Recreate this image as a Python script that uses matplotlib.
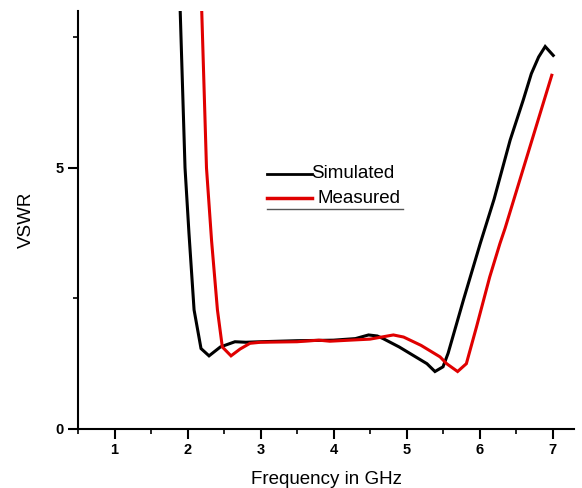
import matplotlib
matplotlib.use("Agg")
import matplotlib.pyplot as plt
from matplotlib.ticker import MultipleLocator
from matplotlib.lines import Line2D

plt.rcParams['font.family'] = ['Liberation Sans', 'DejaVu Sans']

# Simulated VSWR
sim_freq = [1.90, 1.966, 2.02, 2.09, 2.185, 2.295, 2.45, 2.65, 2.80, 3.00, 3.50,
            4.00, 4.30, 4.48, 4.60, 4.68, 4.90, 5.09, 5.28, 5.39, 5.50, 5.57,
            5.78, 6.01, 6.20, 6.42, 6.60, 6.71, 6.81, 6.90, 7.01]
sim_vswr = [8.0, 5.0, 3.75, 2.28, 1.54, 1.40, 1.57, 1.67, 1.66, 1.67, 1.69,
            1.70, 1.73, 1.80, 1.78, 1.73, 1.57, 1.41, 1.25, 1.10, 1.19, 1.45,
            2.47, 3.55, 4.40, 5.53, 6.30, 6.80, 7.12, 7.32, 7.15]

# Measured VSWR
meas_freq = [2.195, 2.26, 2.33, 2.41, 2.477, 2.596, 2.72, 2.856, 3.00, 3.50,
             3.80, 3.95, 4.22, 4.50, 4.70, 4.82, 4.96, 5.20, 5.46, 5.55, 5.70,
             5.82, 5.96, 6.14, 6.28, 6.35, 6.99]
meas_vswr = [8.0, 5.0, 3.6, 2.28, 1.57, 1.40, 1.53, 1.64, 1.66, 1.67,
             1.70, 1.68, 1.70, 1.72, 1.77, 1.80, 1.76, 1.60, 1.38, 1.25, 1.10,
             1.25, 1.96, 2.91, 3.55, 3.84, 6.77]

legend_labels = ["Simulated", "Measured"]
x_label = "Frequency in GHz"
y_label = "VSWR"

fig = plt.figure(figsize=(5.82, 4.88), dpi=100)
L, R, B, T = 78, 574.4, 429, 11
W, H = 582, 488
ax = fig.add_axes([L / W, 1 - B / H, (R - L) / W, (B - T) / H])

ax.plot(sim_freq, sim_vswr, color='black', lw=2.2, solid_joinstyle='miter')
ax.plot(meas_freq, meas_vswr, color='#e00000', lw=2.2, solid_joinstyle='miter')

ax.set_xlim(0.5, 7.3)
ax.set_ylim(0, 8)
ax.xaxis.set_major_locator(MultipleLocator(1))
ax.xaxis.set_minor_locator(MultipleLocator(0.5))
ax.yaxis.set_major_locator(MultipleLocator(5))
ax.yaxis.set_minor_locator(MultipleLocator(2.5))

for s in ['top', 'right']:
    ax.spines[s].set_visible(False)
for s in ['left', 'bottom']:
    ax.spines[s].set_linewidth(1.5)

ax.tick_params(which='major', direction='out', length=7, width=1.5, labelsize=10.5, pad=3)
ax.tick_params(which='minor', direction='out', length=3.5, width=1.2)
for lab in ax.get_xticklabels() + ax.get_yticklabels():
    lab.set_fontweight('bold')

ax.set_xlabel(x_label, fontsize=13.5, labelpad=10)
ax.set_ylabel(y_label, fontsize=13.5, labelpad=15)

# manual legend (figure pixel coordinates)
def fx(px):
    return px / W

def fy(py):
    return 1 - py / H

fig.add_artist(Line2D([fx(267), fx(311.7)], [fy(174), fy(174)], color='black', lw=2.0, transform=fig.transFigure))
fig.add_artist(Line2D([fx(267), fx(312)], [fy(198.3), fy(198.3)], color='#e00000', lw=2.5, transform=fig.transFigure))
fig.add_artist(Line2D([fx(266.7), fx(403.3)], [fy(209.3), fy(209.3)], color='#555555', lw=1.0, transform=fig.transFigure))
fig.text(fx(311.5), fy(174), legend_labels[0], fontsize=13.5, va='center', ha='left')
fig.text(fx(318), fy(198), legend_labels[1], fontsize=13.5, va='center', ha='left')

fig.savefig("out.png", dpi=100)
